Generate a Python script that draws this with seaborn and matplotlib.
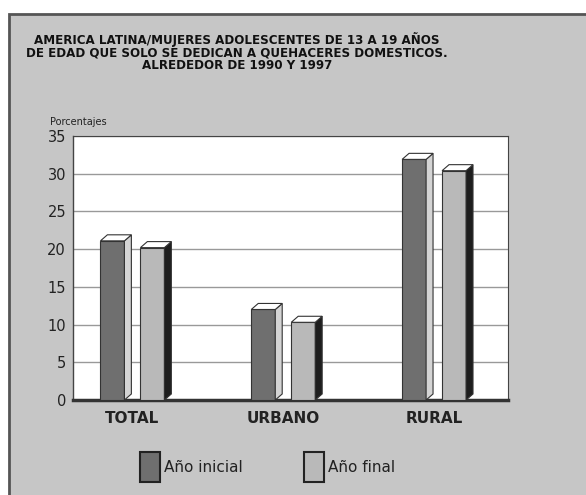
import numpy as np
import pandas as pd
import matplotlib
matplotlib.use("Agg")
import matplotlib.pyplot as plt
from matplotlib.patches import Polygon, Rectangle
import seaborn as sns

# data (porcentajes)
zonas = ["TOTAL", "URBANO", "RURAL"]
anio_inicial = [21.1, 12.0, 31.9]
anio_final = [20.2, 10.3, 30.4]
series = ["Año inicial", "Año final"]
yticks = [0, 5, 10, 15, 20, 25, 30, 35]

df = pd.DataFrame({
    "zona": zonas * 2,
    "pct": anio_inicial + anio_final,
    "serie": [series[0]] * len(zonas) + [series[1]] * len(zonas),
})

bg = "#c6c6c6"
front = ["#6f6f6f", "#b9b9b9"]
side = ["#d4d4d4", "#1e1e1e"]

sns.set_theme(style="white")
plt.rcParams["font.family"] = ["DejaVu Sans"]

fig = plt.figure(figsize=(5.86, 4.95), dpi=100)
fig.patch.set_facecolor("white")
# grey card with dark frame (cut at right/bottom like the scan)
fig.patches.append(Rectangle((9 / 586, -0.02), 1.0, 1 - 14 / 495 + 0.02,
                             transform=fig.transFigure, facecolor=bg,
                             edgecolor="#555555", linewidth=2, zorder=-5))

ax = fig.add_axes([73 / 586, 1 - 400 / 495, (508 - 73) / 586, (400 - 136) / 495])
ax.set_zorder(2)
ax.set_facecolor("white")

sns.barplot(data=df, x="zona", y="pct", hue="serie", palette=front,
            width=0.53, gap=0.4, edgecolor="#333333", linewidth=0.8,
            ax=ax, zorder=3)

ax.set_xlim(-0.394, 2.49)
ax.set_ylim(0, 35)
ax.set_yticks(yticks)
ax.yaxis.grid(True, color="#999999", linewidth=1)
ax.set_axisbelow(True)

# 3D side and top faces built from the bar patches
dx, dy = 0.046, 0.8
for i, cont in enumerate(ax.containers):
    for p in cont:
        x, w, h = p.get_x(), p.get_width(), p.get_height()
        s = Polygon([(x + w, 0), (x + w + dx, dy), (x + w + dx, h + dy), (x + w, h)],
                    closed=True, facecolor=side[i], edgecolor="#333333", linewidth=0.8, zorder=3)
        t = Polygon([(x, h), (x + dx, h + dy), (x + w + dx, h + dy), (x + w, h)],
                    closed=True, facecolor="white", edgecolor="#333333", linewidth=0.8, zorder=3)
        ax.add_patch(s)
        ax.add_patch(t)

for sp in ["top", "right"]:
    ax.spines[sp].set_color("#444444")
    ax.spines[sp].set_linewidth(0.8)
ax.spines["left"].set_color("#444444")
ax.spines["left"].set_linewidth(1)
ax.spines["bottom"].set_color("#333333")
ax.spines["bottom"].set_linewidth(2.5)

ax.set_xlabel("")
ax.set_ylabel("")
ax.tick_params(axis="y", length=0, pad=5, labelsize=10.5, labelcolor="#222222")
ax.tick_params(axis="x", length=0, pad=8, labelsize=11)
for lab in ax.get_xticklabels():
    lab.set_fontweight("bold")
    lab.set_color("#222222")

fig.text(50 / 586, 1 - 122 / 495, "Porcentajes", fontsize=7, color="#222222",
         ha="left", va="center")

titulo = ("AMERICA LATINA/MUJERES ADOLESCENTES DE 13 A 19 AÑOS\n"
          "DE EDAD QUE SOLO SE DEDICAN A QUEHACERES DOMESTICOS.\n"
          "ALREDEDOR DE 1990 Y 1997")
fig.text(237 / 586, 1 - 52 / 495, titulo, fontsize=8.6, fontweight="bold",
         ha="center", va="center", linespacing=0.95, color="#111111")

handles, labels = ax.get_legend_handles_labels()
ax.legend_.remove()
for h in handles:
    h.set_edgecolor("#222222")
    h.set_linewidth(1.5)
leg = fig.legend(handles, labels, loc="center left",
                 bbox_to_anchor=(126 / 586, 1 - 467 / 495), ncol=2, frameon=False,
                 handlelength=1.3, handleheight=2.7, handletextpad=0.3,
                 columnspacing=4.0, fontsize=11)
for t in leg.get_texts():
    t.set_color("#222222")

fig.savefig("out.png", dpi=100)
